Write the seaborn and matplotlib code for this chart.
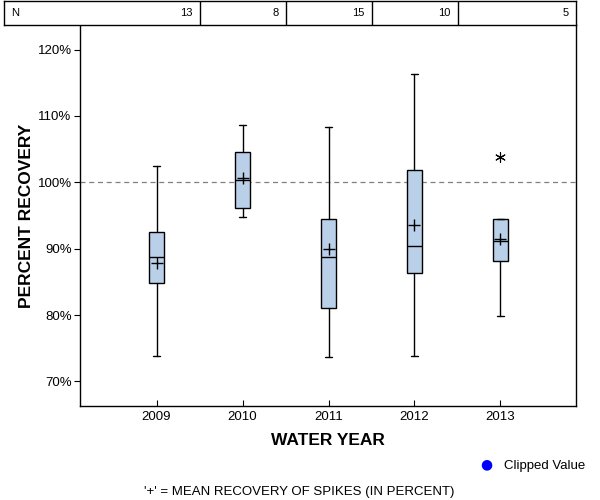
import matplotlib
matplotlib.use('Agg')
import matplotlib.pyplot as plt
import numpy as np
import pandas as pd
import seaborn as sns

# values (percent recovery)
years = ['2009', '2010', '2011', '2012', '2013']
n_count = [13, 8, 15, 10, 5]
whis_lo = [73.8, 94.7, 73.7, 73.8, 79.9]
q1 = [84.9, 96.1, 81.0, 86.4, 88.2]
median = [88.7, 100.3, 88.8, 90.4, 91.2]
q3 = [92.5, 104.5, 94.4, 101.8, 94.4]
whis_hi = [102.5, 108.7, 108.3, 116.3, 94.4]
mean = [87.9, 100.6, 89.9, 93.5, 91.5]
outlier_year = ['2013']
outlier_val = [103.8]

sns.set_style('ticks')
plt.rcParams['font.family'] = ['Liberation Sans', 'DejaVu Sans']
for k in ['text.color', 'axes.labelcolor', 'xtick.color', 'ytick.color', 'axes.edgecolor']:
    plt.rcParams[k] = 'black'

fig = plt.figure(figsize=(6, 5), dpi=100)
W, H = 600, 500
# main axes: px 80..576 horizontally, 25..406 vertically
ax = fig.add_axes([80 / W, 1 - 406 / H, (576 - 80) / W, (406 - 25) / H])

pos = np.arange(len(years))
stats = []
for i in range(len(years)):
    stats.append({'whislo': whis_lo[i], 'q1': q1[i], 'med': median[i],
                  'q3': q3[i], 'whishi': whis_hi[i], 'fliers': []})

ax.bxp(stats, positions=pos, widths=0.175, capwidths=0.09, patch_artist=True,
       showfliers=False, manage_ticks=False,
       boxprops=dict(facecolor='#bad0e8', edgecolor='black', linewidth=1.0),
       medianprops=dict(color='black', linewidth=1.0),
       whiskerprops=dict(color='black', linewidth=1.0),
       capprops=dict(color='black', linewidth=1.0))

df_mean = pd.DataFrame({'pos': pos, 'mean': mean})
sns.scatterplot(data=df_mean, x='pos', y='mean', marker='+', s=70,
                color='black', linewidth=1.0, ax=ax, zorder=5)

df_out = pd.DataFrame({'pos': [years.index(y) for y in outlier_year],
                       'val': outlier_val})
sns.scatterplot(data=df_out, x='pos', y='val', marker=(6, 2, 0), s=50,
                color='black', linewidth=0.8, ax=ax, zorder=5)

ax.axhline(100, color='#808080', linestyle=(0, (4, 3)), linewidth=0.9, zorder=0)

px = 86.0
xlo = (80 - 156.5) / px
xhi = (576 - 156.5) / px
ax.set_xlim(xlo, xhi)
ax.set_ylim(66.3, 123.7)

yt = [70, 80, 90, 100, 110, 120]
ax.set_yticks(yt)
ax.set_yticklabels([f'{v}%' for v in yt], fontsize=9.5)
ax.set_xticks(pos)
ax.set_xticklabels(years, fontsize=9.5)
ax.tick_params(axis='y', direction='out', length=4.5, width=0.8, pad=1.5)
ax.tick_params(axis='x', direction='in', length=4, width=0.8, pad=3.5)
for s in ['left', 'bottom', 'right']:
    ax.spines[s].set_linewidth(1.0)
ax.spines['top'].set_visible(False)
ax.set_xlabel('WATER YEAR', fontsize=12.5, fontweight='bold', labelpad=7)
ax.set_ylabel('PERCENT RECOVERY', fontsize=12.5, fontweight='bold', labelpad=2.5)
ax.set_facecolor('white')

# N table across the top
tab = fig.add_axes([4 / W, 1 - 25 / H, (576 - 4) / W, 24 / H])
tab.set_xlim((4 - 156.5) / px, xhi)
tab.set_ylim(0, 1)
tab.set_xticks([])
tab.set_yticks([])
for s in tab.spines.values():
    s.set_linewidth(1.0)
for i in range(len(years) - 1):
    tab.axvline(i + 0.5, color='black', linewidth=1.0)
tab.annotate('N', xy=(0, 0.5), xycoords='axes fraction', xytext=(5, 0),
             textcoords='offset points', ha='left', va='center', fontsize=8)
for i, n in enumerate(n_count):
    right = i + 0.5 if i < len(years) - 1 else xhi
    tab.annotate(str(n), xy=(right, 0.5), xycoords='data', xytext=(-5, 0),
                 textcoords='offset points', ha='right', va='center', fontsize=8)

# legend and footnote
fig.text(486 / W, 1 - 464 / H, '\u25CF', color='#0000ff', fontsize=10,
         ha='center', va='center', family='DejaVu Sans')
fig.text(504 / W, 1 - 466 / H, 'Clipped Value', fontsize=9.5, ha='left', va='center')
fig.text(299 / W, 1 - 492 / H, "'+' = MEAN RECOVERY OF SPIKES (IN PERCENT)",
         fontsize=9.5, ha='center', va='center')

fig.savefig('out.png', dpi=100)
